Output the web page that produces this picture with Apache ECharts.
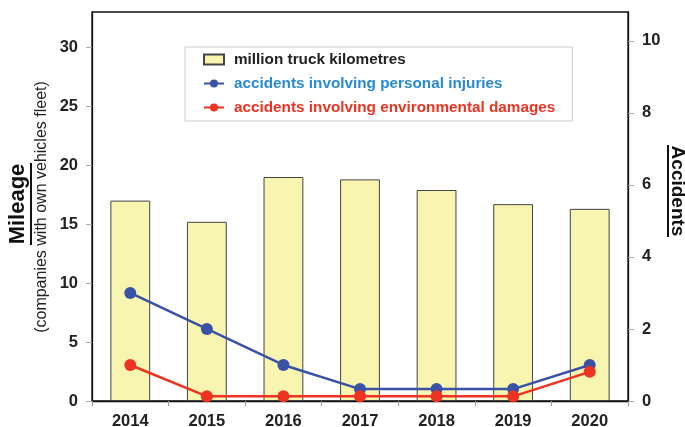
<!DOCTYPE html>
<html>
<head>
<meta charset="utf-8">
<script src="https://cdn.jsdelivr.net/npm/echarts@6/dist/echarts.min.js"></script>
<style>
  html, body { margin: 0; padding: 0; background: #fff; }
  #chart { width: 685px; height: 427px; }
</style>
</head>
<body>
<div id="chart"></div>
<script>
var years = ['2014', '2015', '2016', '2017', '2018', '2019', '2020'];
var mileage = [17.0, 15.2, 19.0, 18.8, 17.9, 16.7, 16.3];
var injuries = [3.0, 2.0, 1.0, 0.33, 0.33, 0.33, 1.0];
var environment = [1.0, 0.13, 0.13, 0.13, 0.13, 0.13, 0.81];
var mileageTicks = [0, 5, 10, 15, 20, 25, 30];
var accidentTicks = [0, 2, 4, 6, 8, 10];

var font = 'Liberation Sans, Arial, sans-serif';
var myChart = echarts.init(document.getElementById('chart'));

myChart.setOption({
  animation: false,
  textStyle: { fontFamily: font },
  grid: {
    left: 92, right: 57, top: 12, bottom: 26,
    outerBoundsMode: 'none',
    show: true, borderColor: '#111', borderWidth: 1.3
  },
  legend: {
    orient: 'vertical',
    left: 185,
    top: 47,
    padding: [5, 17, 6, 18],
    itemGap: 9,
    itemWidth: 20,
    itemHeight: 10,
    borderColor: '#cccccc',
    borderWidth: 1,
    backgroundColor: '#fff',
    textStyle: { fontSize: 15.3, fontWeight: 'bold', fontFamily: font, lineHeight: 15, padding: [0, 0, 0, 5] },
    data: [
      { name: 'million truck kilometres', icon: 'rect', textStyle: { color: '#222' } },
      { name: 'accidents involving personal injuries', textStyle: { color: '#2a8ad0' } },
      { name: 'accidents involving environmental damages', textStyle: { color: '#ee3322' } }
    ]
  },
  xAxis: {
    type: 'category',
    data: years,
    axisLine: { lineStyle: { color: '#111', width: 1.3 } },
    axisTick: { show: true, length: 5, lineStyle: { color: '#999' } },
    axisLabel: { color: '#222', fontSize: 16.5, fontWeight: 'bold', margin: 12 }
  },
  yAxis: [{
    type: 'value',
    min: 0,
    max: 33,
    interval: 5,
    splitLine: { show: false },
    axisLine: { show: true, lineStyle: { color: '#111', width: 1.3 } },
    axisTick: { show: true, length: 6, lineStyle: { color: '#aaa' }, customValues: mileageTicks },
    axisLabel: { color: '#222', fontSize: 16.5, fontWeight: 'bold', margin: 14, customValues: mileageTicks }
  }, {
    type: 'value',
    min: 0,
    max: 10.8,
    interval: 2,
    splitLine: { show: false },
    axisLine: { show: true, lineStyle: { color: '#111', width: 1.3 } },
    axisTick: { show: true, length: 6, lineStyle: { color: '#aaa' }, customValues: accidentTicks },
    axisLabel: { color: '#222', fontSize: 16.5, fontWeight: 'bold', margin: 14, customValues: accidentTicks }
  }],
  series: [{
    name: 'million truck kilometres',
    type: 'bar',
    data: mileage,
    barWidth: '52%',
    itemStyle: { color: '#f8f5b0', borderColor: '#444', borderWidth: 1 }
  }, {
    name: 'accidents involving personal injuries',
    type: 'line',
    yAxisIndex: 1,
    data: injuries,
    symbol: 'circle',
    symbolSize: 12,
    lineStyle: { color: '#3a52a6', width: 2.5 },
    itemStyle: { color: '#3a52a6' }
  }, {
    name: 'accidents involving environmental damages',
    type: 'line',
    yAxisIndex: 1,
    data: environment,
    symbol: 'circle',
    symbolSize: 12,
    lineStyle: { color: '#ee3322', width: 2.5 },
    itemStyle: { color: '#ee3322' }
  }],
  graphic: [{
    type: 'text',
    x: 18, y: 204,
    rotation: Math.PI / 2,
    style: {
      text: 'Mileage', fill: '#111', font: 'bold 22px ' + font,
      align: 'center', verticalAlign: 'middle'
    }
  }, {
    type: 'line',
    shape: { x1: 31, y1: 163, x2: 31, y2: 245 },
    style: { stroke: '#111', lineWidth: 2 }
  }, {
    type: 'text',
    x: 42, y: 207,
    rotation: Math.PI / 2,
    style: {
      text: '(companies with own vehicles fleet)', fill: '#222', font: '16px ' + font,
      align: 'center', verticalAlign: 'middle'
    }
  }, {
    type: 'text',
    x: 677, y: 191,
    rotation: -Math.PI / 2,
    style: {
      text: 'Accidents', fill: '#111', font: 'bold 19px ' + font,
      align: 'center', verticalAlign: 'middle'
    }
  }, {
    type: 'line',
    shape: { x1: 668, y1: 145, x2: 668, y2: 237 },
    style: { stroke: '#111', lineWidth: 2 }
  }]
});
</script>
</body>
</html>
